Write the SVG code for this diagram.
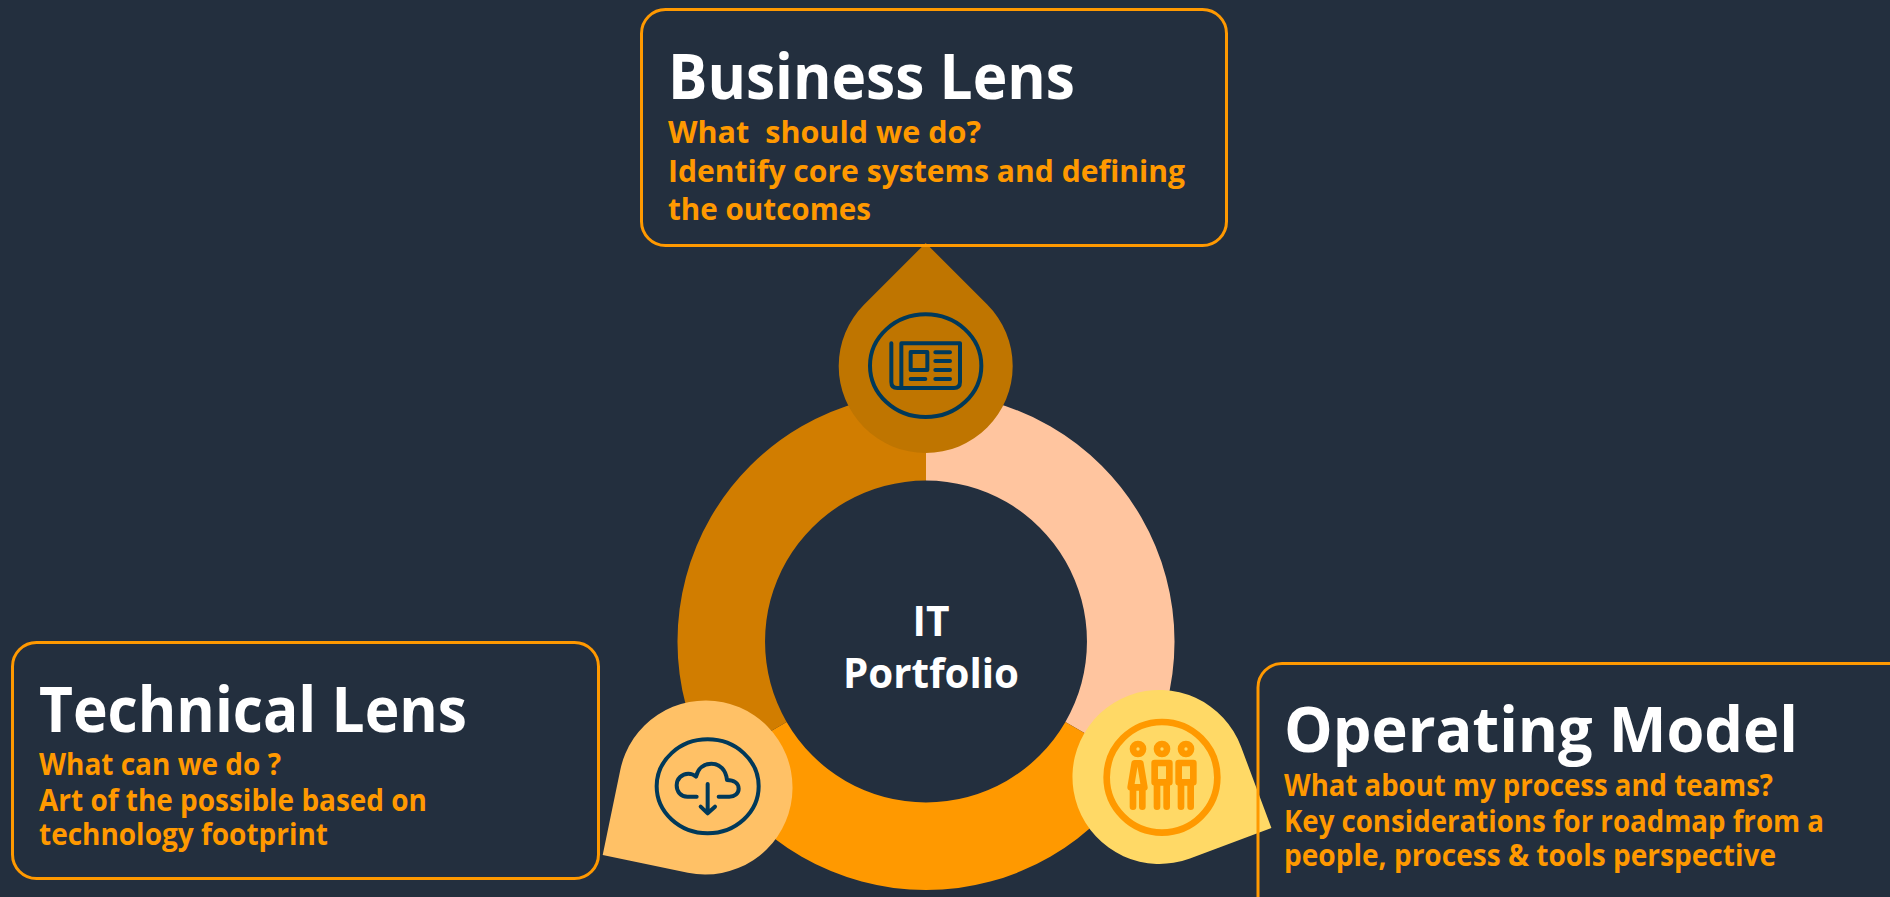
<svg xmlns="http://www.w3.org/2000/svg" width="1890" height="897" viewBox="0 0 1890 897">
<style>
text{font-family:"Open Sans","Noto Sans","Liberation Sans",sans-serif;font-weight:700}
.t{fill:#fff;font-size:62px}
.s{fill:#f90;font-size:31px}
.c{fill:#fff;font-size:41px;text-anchor:middle}
.box{fill:none;stroke:#f90;stroke-width:3}
.ic{fill:none;stroke:#00395a;stroke-width:12;stroke-linecap:round;stroke-linejoin:round}
.io{fill:none;stroke:#f90;stroke-width:20;stroke-linecap:round;stroke-linejoin:round}
</style>
<defs>
<path id="pin" d="M0,-123 L61.5,-61.5 A87,87 0 1 1 -61.5,-61.5 Z"/>
</defs>
<rect width="1890" height="897" fill="#232f3e"/>
<g id="ring">
<path d="M926,393 A248.5,248.5 0 0 1 1141.2,765.8 L1065.4,722 A161,161 0 0 0 926,480.5 Z" fill="#ffc59f"/>
<path d="M1141.2,765.8 A248.5,248.5 0 0 1 710.8,765.8 L786.6,722 A161,161 0 0 0 1065.4,722 Z" fill="#f90"/>
<path d="M710.8,765.8 A248.5,248.5 0 0 1 926,393 L926,480.5 A161,161 0 0 0 786.6,722 Z" fill="#d17d00"/>
</g>
<g id="pin-business">
<use href="#pin" transform="translate(925.7 366)" fill="#bf7500"/>
<g transform="translate(800 230) scale(.33333)" class="ic">
<ellipse cx="377" cy="407" rx="167" ry="154"/>
<path d="M304,340H480V456Q480,474 462,474H292Q274,474 274,456V340M304,340V470"/>
<rect x="332" y="366" width="50" height="54"/>
<path d="M406,367H450M406,393H450M406,420H450M332,447H376M406,447H450"/>
</g>
</g>
<g id="pin-technical">
<use href="#pin" transform="translate(705.5 787.5) rotate(-123.3)" fill="#ffc166"/>
<g transform="translate(590 680) scale(.33333)" class="ic">
<ellipse cx="353" cy="319" rx="153" ry="141"/>
<path d="M320,350H292C272,350 260,335 260,316C260,296 276,281 295,281C305,281 312,284 318,290C324,265 342,251 364,251C390,251 408,270 411,300C432,300 446,310 446,326C446,340 434,350 418,350H386"/>
<path d="M353,312V400M332,380L353,400L375,380"/>
</g>
</g>
<g id="pin-operating">
<use href="#pin" transform="translate(1159.5 777) rotate(114.5)" fill="#ffd966"/>
<g transform="translate(1060 670) scale(.33333)" class="io">
<circle cx="306" cy="322" r="166"/>
<circle cx="234" cy="237" r="15"/>
<circle cx="306" cy="237" r="15"/>
<circle cx="378" cy="237" r="15"/>
<path d="M224,280H241L253,352H212Z"/>
<path d="M219,360V410M247,360V410"/>
<rect x="284" y="279" width="44" height="58"/>
<path d="M291,345V410M320,345V410"/>
<rect x="356" y="279" width="44" height="58"/>
<path d="M363,345V410M392,345V410"/>
</g>
</g>
<g id="center">
<text class="c" x="931" y="636" textLength="37" lengthAdjust="spacingAndGlyphs">IT</text>
<text class="c" x="931" y="688" textLength="176" lengthAdjust="spacingAndGlyphs">Portfolio</text>
</g>
<g id="business-lens">
<rect class="box" x="641.5" y="9.5" width="585" height="236" rx="24"/>
<text class="t" x="668" y="99" textLength="407" lengthAdjust="spacingAndGlyphs">Business Lens</text>
<text class="s" x="668" y="143" textLength="313" lengthAdjust="spacingAndGlyphs" xml:space="preserve">What  should we do?</text>
<text class="s" x="668" y="182" textLength="517" lengthAdjust="spacingAndGlyphs">Identify core systems and defining</text>
<text class="s" x="668" y="220" textLength="203" lengthAdjust="spacingAndGlyphs">the outcomes</text>
</g>
<g id="technical-lens">
<rect class="box" x="12.5" y="642.5" width="586" height="236" rx="24"/>
<text class="t" x="39" y="732" textLength="428" lengthAdjust="spacingAndGlyphs">Technical Lens</text>
<text class="s" x="39" y="775" textLength="242" lengthAdjust="spacingAndGlyphs">What can we do ?</text>
<text class="s" x="39" y="811" textLength="388" lengthAdjust="spacingAndGlyphs">Art of the possible based on</text>
<text class="s" x="39" y="845" textLength="289" lengthAdjust="spacingAndGlyphs">technology footprint</text>
</g>
<g id="operating-model">
<rect class="box" x="1258" y="663.5" width="660" height="260" rx="24"/>
<text class="t" x="1284" y="752" textLength="514" lengthAdjust="spacingAndGlyphs">Operating Model</text>
<text class="s" x="1284" y="796" textLength="489" lengthAdjust="spacingAndGlyphs">What about my process and teams?</text>
<text class="s" x="1284" y="832" textLength="540" lengthAdjust="spacingAndGlyphs">Key considerations for roadmap from a</text>
<text class="s" x="1284" y="866" textLength="492" lengthAdjust="spacingAndGlyphs">people, process &amp; tools perspective</text>
</g>
</svg>
